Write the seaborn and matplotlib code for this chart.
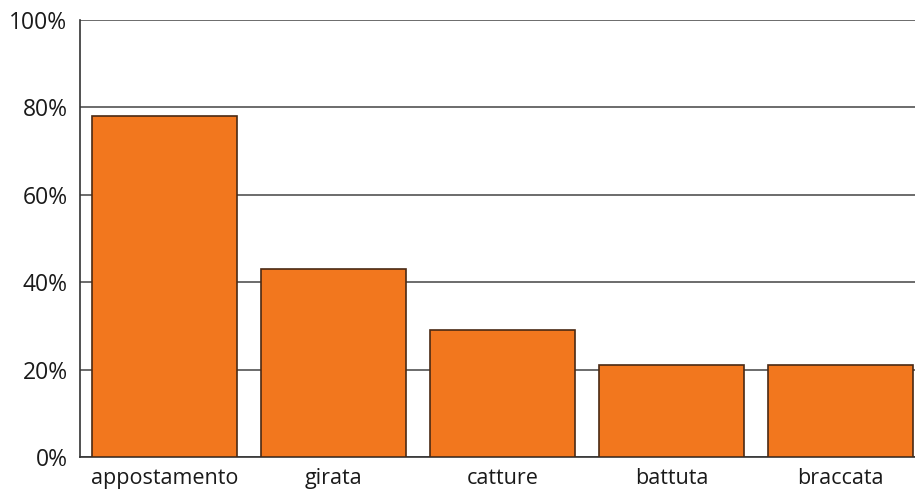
import matplotlib
matplotlib.use("Agg")
import matplotlib.pyplot as plt
import seaborn as sns
import pandas as pd
from matplotlib.ticker import PercentFormatter

categories = ["appostamento", "girata", "catture", "battuta", "braccata"]
values = [78, 43, 29, 21, 21]

sns.set_theme(style="white")
plt.rcParams['font.family'] = ['Open Sans', 'DejaVu Sans']

df = pd.DataFrame({"cat": categories, "val": values})

fig = plt.figure(figsize=(9.15, 4.93), dpi=100)
ax = fig.add_axes([80/915, 36/493, 845/915, 437/493])
sns.barplot(data=df, x="cat", y="val", color="#F2771E", saturation=1,
            width=0.853, edgecolor="#4a2a14", linewidth=1.2, ax=ax, zorder=3)
ax.set_xlim(-0.5, 4.5)
ax.set_ylim(0, 100)
ax.set_yticks([0, 20, 40, 60, 80, 100])
ax.yaxis.set_major_formatter(PercentFormatter(decimals=0))
ax.grid(axis="y", color="#444444", linewidth=1.1, zorder=0)
ax.set_axisbelow(True)
ax.set_xlabel("")
ax.set_ylabel("")
for s in ["top", "right"]:
    ax.spines[s].set_visible(False)
for s in ["left", "bottom"]:
    ax.spines[s].set_color("#333333")
    ax.spines[s].set_linewidth(1.2)
ax.tick_params(axis="both", length=0, colors="#1a1a1a")
ax.tick_params(axis="y", pad=9, labelsize=16.5)
ax.tick_params(axis="x", pad=8, labelsize=15.5)
fig.savefig("out.png", dpi=100)
